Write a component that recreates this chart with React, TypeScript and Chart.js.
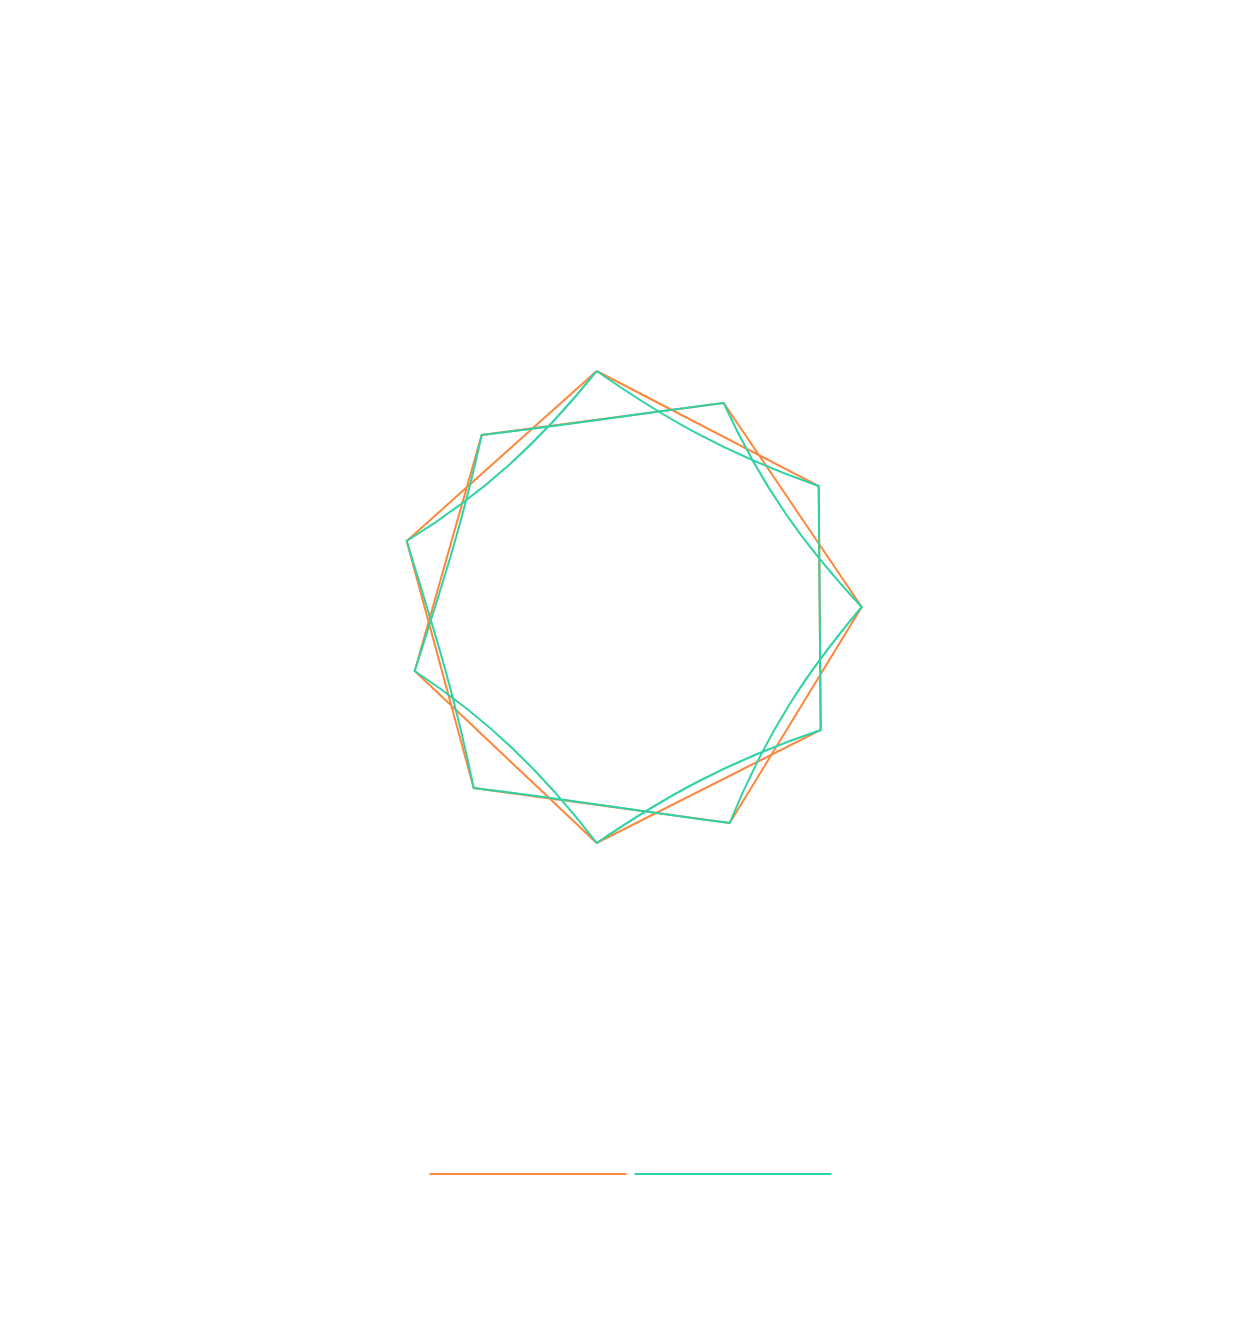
import React, { useEffect, useRef } from 'react';
import Chart from 'chart.js/auto';

// vertex order of the star (each point skips one neighbour), closing back on the first
const starX = [0.0, 2.22, 2.24, 0.0, -1.82, -1.15, 1.27, 2.65, 1.33, -1.23, -1.9, 0.0];
const starY = [2.36, 1.21, -1.23, -2.36, -0.64, 1.72, 2.04, 0.0, -2.16, -1.81, 0.66, 2.36];

const seriesNames = ['', ''];
const seriesColors = ['rgb(253, 134, 58)', 'rgb(46, 210, 164)'];

// the curved series runs straight in atan-warped axes (radius of the warp in data units)
const warpRadius = 3.2;

const points = starX.map((x, i) => ({ x, y: starY[i] }));

// tangent scale at both ends of a segment that is straight in the warped space
const endRatios = (p0: number, p1: number, c: number, R: number) => {
  const a = p0 - c;
  const b = p1 - c;
  const d = b - a;
  if (Math.abs(d) < 1e-6) return [1, 1];
  const mean = (R * (Math.atan(b / R) - Math.atan(a / R))) / d;
  return [mean * (1 + (a / R) ** 2), mean * (1 + (b / R) ** 2)];
};

const warpedLinePlugin = {
  id: 'warpedLine',
  beforeDatasetDraw(chart: any, args: any) {
    const ds: any = chart.data.datasets[args.index];
    if (!ds.warped) return;
    const meta = chart.getDatasetMeta(args.index);
    meta.dataset.updateControlPoints(chart.chartArea, 'x');
    const xs = chart.scales.x;
    const ys = chart.scales.y;
    const cx = xs.getPixelForValue(0);
    const cy = ys.getPixelForValue(0);
    const Rx = Math.abs(xs.getPixelForValue(warpRadius) - cx);
    const Ry = Math.abs(ys.getPixelForValue(warpRadius) - cy);
    const pts: any[] = meta.data;
    for (let i = 0; i < pts.length - 1; i++) {
      const A = pts[i];
      const B = pts[i + 1];
      const dx = B.x - A.x;
      const dy = B.y - A.y;
      const [rxA, rxB] = endRatios(A.x, B.x, cx, Rx);
      const [ryA, ryB] = endRatios(A.y, B.y, cy, Ry);
      A.cp2x = A.x + (dx * rxA) / 3;
      A.cp2y = A.y + (dy * ryA) / 3;
      B.cp1x = B.x - (dx * rxB) / 3;
      B.cp1y = B.y - (dy * ryB) / 3;
    }
  },
};

const App: React.FC = () => {
  const canvasRef = useRef<HTMLCanvasElement>(null);

  useEffect(() => {
    if (!canvasRef.current) return;
    const chart = new Chart(canvasRef.current, {
      type: 'line',
      data: {
        datasets: [
          {
            label: seriesNames[0],
            data: points,
            borderColor: seriesColors[0],
            backgroundColor: seriesColors[0],
            borderWidth: 2,
            pointRadius: 0,
            tension: 0,
            fill: false,
            pointStyle: 'line',
            order: 2,
          },
          {
            label: seriesNames[1],
            data: points,
            borderColor: seriesColors[1],
            backgroundColor: seriesColors[1],
            borderWidth: 2,
            pointRadius: 0,
            fill: false,
            cubicInterpolationMode: 'monotone',
            pointStyle: 'line',
            order: 1,
            warped: true,
          } as any,
        ],
      },
      options: {
        responsive: true,
        maintainAspectRatio: false,
        animation: false,
        layout: { padding: { left: 25, right: 0, top: 0, bottom: 18 } },
        plugins: {
          legend: {
            position: 'bottom',
            labels: {
              usePointStyle: true,
              pointStyleWidth: 197,
              padding: 2,
              font: { size: 12 },
              sort: (a: any, b: any) => a.datasetIndex - b.datasetIndex,
            },
          },
          tooltip: { enabled: false },
        },
        scales: {
          x: { type: 'linear', display: false, min: -5.637, max: 6.373 },
          y: { type: 'linear', display: false, min: -5.59, max: 5.99 },
        },
      },
      plugins: [warpedLinePlugin],
    });
    return () => chart.destroy();
  }, []);

  return (
    <div style={{ width: 1226, height: 1200, position: 'relative' }}>
      <canvas ref={canvasRef} />
    </div>
  );
};

export default App;
